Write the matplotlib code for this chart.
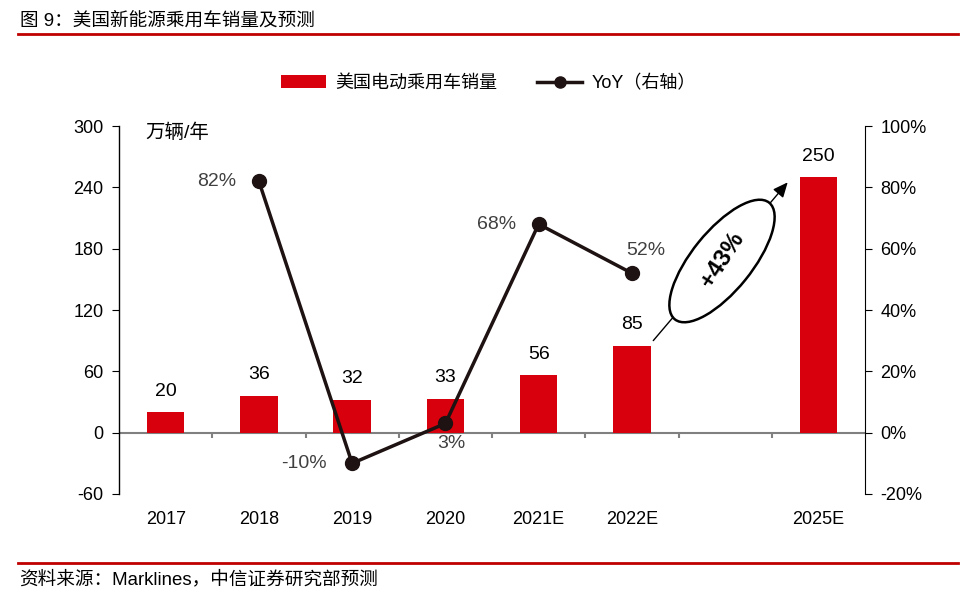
import numpy as np
import matplotlib
matplotlib.use('Agg')
import matplotlib.pyplot as plt
from matplotlib.patches import Ellipse
from matplotlib.lines import Line2D
from matplotlib.patches import Patch

plt.rcParams['font.family'] = ['Liberation Sans', 'Noto Sans CJK SC', 'DejaVu Sans']
plt.rcParams['axes.unicode_minus'] = False

years = ['2017', '2018', '2019', '2020', '2021E', '2022E', '', '2025E']
sales = [20, 36, 32, 33, 56, 85, None, 250]
yoy_years = ['2018', '2019', '2020', '2021E', '2022E']
yoy = [82, -10, 3, 68, 52]

RED = '#D9000D'
LINE = '#1E1212'

fig = plt.figure(figsize=(9.77, 5.99), dpi=100)
ax = fig.add_axes([0.1218, 0.1753, 0.7636, 0.6143])
ax2 = ax.twinx()

x = np.arange(len(years))
bx = [i for i, v in zip(x, sales) if v is not None]
bv = [v for v in sales if v is not None]
ax.bar(bx, bv, width=0.4, color=RED, zorder=2)
for i, v in zip(bx, bv):
    ax.annotate(str(v), (i, v), xytext=(0, 9), textcoords='offset points',
                ha='center', va='bottom', fontsize=14, color='black')

ax.set_xlim(-0.5, len(years) - 0.5)
ax.set_ylim(-60, 300)
ax.set_yticks(np.arange(-60, 301, 60))
ax.set_xticks(x)
ax.set_xticklabels(years, fontsize=13)
ax.tick_params(axis='x', length=0, pad=12)
ax.tick_params(axis='y', direction='out', length=5, labelsize=13, pad=6)
for s in ['top', 'bottom', 'right']:
    ax.spines[s].set_visible(False)
ax.spines['left'].set_linewidth(1.0)
ax.axhline(0, color='#808080', lw=1.5, zorder=1)
ax.vlines(np.arange(0.5, len(years) - 0.5, 1), -5, 0, color='#808080', lw=1.5, zorder=1)

xi = [years.index(y) for y in yoy_years]
ax2.plot(xi, yoy, color=LINE, lw=2.5, marker='o', markersize=10,
         markerfacecolor=LINE, markeredgecolor=LINE, zorder=3)
ax2.set_ylim(-20, 100)
ax2.set_yticks(np.arange(-20, 101, 20))
ax2.set_yticklabels([f'{t}%' for t in range(-20, 101, 20)])
ax2.tick_params(axis='y', direction='out', length=5, labelsize=13, pad=6)
for s in ['top', 'bottom', 'left']:
    ax2.spines[s].set_visible(False)

offsets = [(-16, 0, 'right', 'center'), (-18, 0, 'right', 'center'),
           (4, -8, 'center', 'top'), (-16, 0, 'right', 'center'),
           (10, 10, 'center', 'bottom')]
for i, v, (dx, dy, ha, va) in zip(xi, yoy, offsets):
    ax2.annotate(f'{v}%', (i, v), xytext=(dx, dy), textcoords='offset points',
                 ha=ha, va=va, fontsize=14, color='#404040')

ax.text(0.035, 0.981, '万辆/年', transform=ax.transAxes, fontsize=14,
        ha='left', va='center')

# growth arrow and ellipse
ax.annotate('', xy=(6.69, 247), xytext=(5.21, 88),
            arrowprops=dict(arrowstyle='-|>,head_length=0.9,head_width=0.4',
                            color='black', lw=1.0), zorder=4)
ell = Ellipse((7.22, 3.38), 1.50, 0.60, angle=51, transform=fig.dpi_scale_trans,
              facecolor='white', edgecolor='black', lw=1.8, zorder=5)
fig.patches.append(ell)
fig.text(0.739, 0.566, '+43%', rotation=57, fontsize=17, fontweight='bold',
         ha='center', va='center', zorder=6)

handles = [Patch(facecolor=RED, edgecolor='none'),
           Line2D([0], [0], color=LINE, lw=2.5, marker='o', markersize=8)]
fig.legend(handles, ['美国电动乘用车销量', 'YoY（右轴）'], loc='center',
           bbox_to_anchor=(0.5, 0.861), ncol=2, frameon=False, fontsize=13,
           handlelength=2.5, columnspacing=2.2, handletextpad=0.5)

fig.text(0.02, 0.965, '图 9：美国新能源乘用车销量及预测', fontsize=13.4, ha='left', va='center')
fig.add_artist(Line2D([0.018, 0.981], [0.943, 0.943], color='#C00000', lw=2,
                      transform=fig.transFigure))
fig.add_artist(Line2D([0.018, 0.981], [0.06, 0.06], color='#C00000', lw=2,
                      transform=fig.transFigure))
fig.text(0.02, 0.032, '资料来源：Marklines，中信证券研究部预测', fontsize=13.4,
         ha='left', va='center')

fig.savefig('out.png', dpi=100)
